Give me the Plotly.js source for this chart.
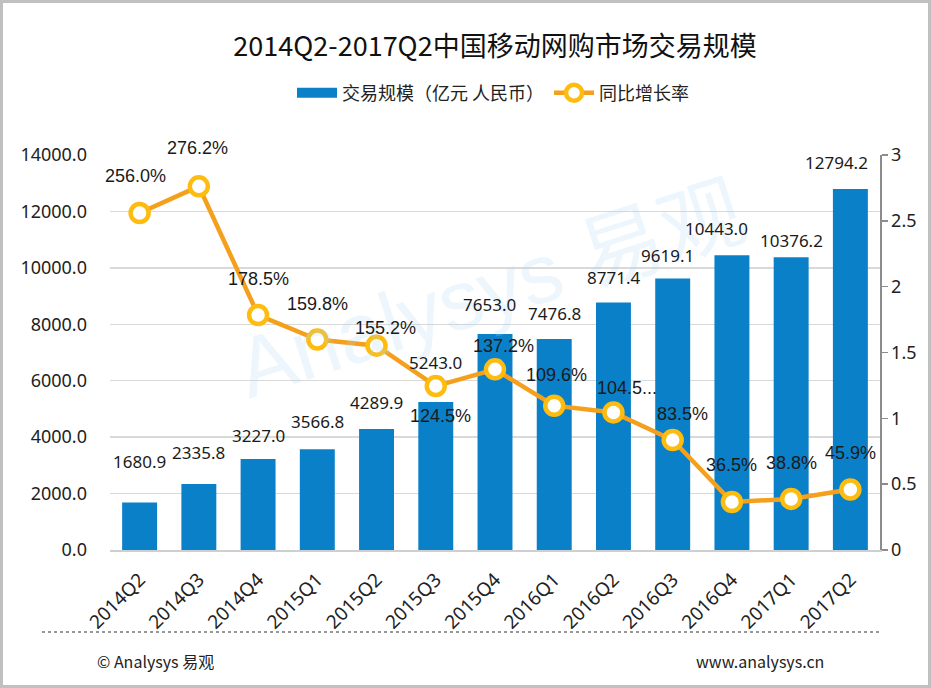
<!DOCTYPE html>
<html>
<head>
<meta charset="utf-8">
<script src="https://cdn.plot.ly/plotly-3.0.1.min.js"></script>
<style>
html,body{margin:0;padding:0;background:#fff;}
#chart{width:931px;height:688px;}
</style>
</head>
<body>
<div id="chart"></div>
<script>
// ---- data ----
const quarters = ["2014Q2","2014Q3","2014Q4","2015Q1","2015Q2","2015Q3","2015Q4","2016Q1","2016Q2","2016Q3","2016Q4","2017Q1","2017Q2"];
const tradeScale = [1680.9, 2335.8, 3227.0, 3566.8, 4289.9, 5243.0, 7653.0, 7476.8, 8771.4, 9619.1, 10443.0, 10376.2, 12794.2];
const yoyGrowth = [2.560, 2.762, 1.785, 1.598, 1.552, 1.245, 1.372, 1.096, 1.045, 0.835, 0.365, 0.388, 0.459];
const growthLabels = ["256.0%","276.2%","178.5%","159.8%","155.2%","124.5%","137.2%","109.6%","104.5...","83.5%","36.5%","38.8%","45.9%"];
const leftTicks = [0,2000,4000,6000,8000,10000,12000,14000];
const rightTicks = [0,0.5,1,1.5,2,2.5,3];
const barName = "交易规模（亿元 人民币）";
const lineName = "同比增长率";

// ---- label placement (pixel offsets, styling only) ----
const barLabelLift = [41,32,23,28,26,40,30,26,25,23,27,17,27];
const barLabelDx   = [0,0,0,0,0,0,-6,0,0,-5,-15,0,-14];
const pctLabelLift = [37,38,36,36,18,-30,23,31,24,26,37,36,37];
const pctLabelDx   = [-4,-1,0,0,9,5,8,2,14,10,0,0,0];

const M = {l:110, r:51, t:155, b:138};
const W = 931, H = 688;
const pw = W - M.l - M.r, ph = H - M.t - M.b;
const px = p => (p - M.l) / pw;
const py = p => (H - M.b - p) / ph;

const numFont = "Noto Sans, Open Sans, sans-serif";
const cjkFont = "Noto Sans CJK SC, Noto Sans, sans-serif";
const barColor = '#0a80c9';

const annotations = [];
// watermark (drawn first, behind labels)
annotations.push({
  xref: 'paper', yref: 'paper', x: px(490), y: py(290),
  text: "Analysys 易观", showarrow: false, textangle: -18,
  font: {family: "Liberation Sans, Noto Sans CJK SC, sans-serif", size: 84, color: 'rgba(175,212,240,0.22)'}
});
quarters.forEach((q, i) => {
  annotations.push({
    x: q, y: tradeScale[i], xref: 'x', yref: 'y',
    text: tradeScale[i].toFixed(1), showarrow: false,
    yanchor: 'middle', xanchor: 'center',
    yshift: barLabelLift[i], xshift: barLabelDx[i],
    font: {family: numFont, size: 17, color: '#1a1a1a'}
  });
  annotations.push({
    x: q, y: yoyGrowth[i], xref: 'x', yref: 'y2',
    text: growthLabels[i], showarrow: false,
    yanchor: 'middle', xanchor: 'center',
    yshift: pctLabelLift[i], xshift: pctLabelDx[i],
    font: {family: "Liberation Sans, Arial, sans-serif", size: 18, color: '#1a1a1a'}
  });
});
// footer
annotations.push({
  xref: 'paper', yref: 'paper', x: px(95), y: py(661), xanchor: 'left', yanchor: 'middle',
  text: "© Analysys 易观", showarrow: false,
  font: {family: cjkFont, size: 16, color: '#222'}
});
annotations.push({
  xref: 'paper', yref: 'paper', x: px(826), y: py(661), xanchor: 'right', yanchor: 'middle',
  text: "www.analysys.cn", showarrow: false,
  font: {family: cjkFont, size: 16, color: '#222'}
});

const shapes = [
  {type: 'line', xref: 'paper', yref: 'paper', x0: px(42), x1: px(880), y0: py(632), y1: py(632),
   line: {color: '#777', width: 1.5, dash: 'dot'}},
  {type: 'rect', xref: 'paper', yref: 'paper', x0: px(1.5), x1: px(W - 1.5), y0: py(1.5), y1: py(H - 1.5),
   line: {color: '#c0c0c0', width: 3}, fillcolor: 'rgba(0,0,0,0)'}
];

const traces = [
  {
    type: 'bar', name: barName, x: quarters, y: tradeScale, showlegend: false,
    marker: {color: barColor}, yaxis: 'y', hoverinfo: 'x+y', legendgroup: 'bar'
  },
  // legend swatch for the bars (wide rectangle like the original)
  {
    type: 'scatter', mode: 'lines', name: barName, x: [null], y: [null],
    line: {color: barColor, width: 14}, legendgroup: 'bar', hoverinfo: 'skip'
  },
  {
    type: 'scatter', mode: 'lines+markers', name: lineName, x: quarters, y: yoyGrowth,
    yaxis: 'y2', cliponaxis: false,
    line: {color: '#f5a01c', width: 4.5},
    marker: {size: 18, color: '#ffffff', line: {color: '#fdbc0f', width: 4.5}}
  }
];

const layout = {
  width: W, height: H,
  margin: M,
  paper_bgcolor: '#ffffff', plot_bgcolor: '#ffffff',
  bargap: 0.41,
  showlegend: true,
  title: {
    text: "2014Q2-2017Q2中国移动网购市场交易规模",
    font: {family: cjkFont, size: 27, color: '#111'},
    x: 0.5, xref: 'paper', xanchor: 'center', y: 1 - 47 / H, yanchor: 'middle'
  },
  legend: {
    orientation: 'h', x: px(292), xanchor: 'left', y: py(93), yanchor: 'middle',
    font: {family: cjkFont, size: 18, color: '#222'},
    itemwidth: 40, tracegroupgap: 0, bgcolor: 'rgba(0,0,0,0)'
  },
  xaxis: {
    type: 'category', range: [-0.5, 12.5], tickangle: -45,
    tickfont: {family: numFont, size: 19, color: '#222'},
    ticklabelstandoff: 9,
    showline: true, linecolor: '#cfcfcf', linewidth: 2,
    showgrid: false, ticks: '', zeroline: false, automargin: false
  },
  yaxis: {
    range: [0, 14000], tickvals: leftTicks, tickformat: '.1f',
    tickfont: {family: numFont, size: 18, color: '#222'},
    ticklabelstandoff: 22,
    showgrid: true, gridcolor: '#d9d9d9', gridwidth: 1.5,
    showline: false, zeroline: false, ticks: '', ticklen: 0,
    automargin: false
  },
  yaxis2: {
    overlaying: 'y', side: 'right',
    range: [0, 3], tickvals: rightTicks,
    tickfont: {family: numFont, size: 18, color: '#222'},
    showgrid: false, zeroline: false,
    showline: true, linecolor: '#8c8c8c', linewidth: 1.5,
    ticks: 'outside', ticklen: 6, tickcolor: '#8c8c8c', tickwidth: 1.5,
    automargin: false
  },
  annotations: annotations,
  shapes: shapes
};

Plotly.newPlot('chart', traces, layout, {displayModeBar: false, staticPlot: true});
</script>
</body>
</html>
